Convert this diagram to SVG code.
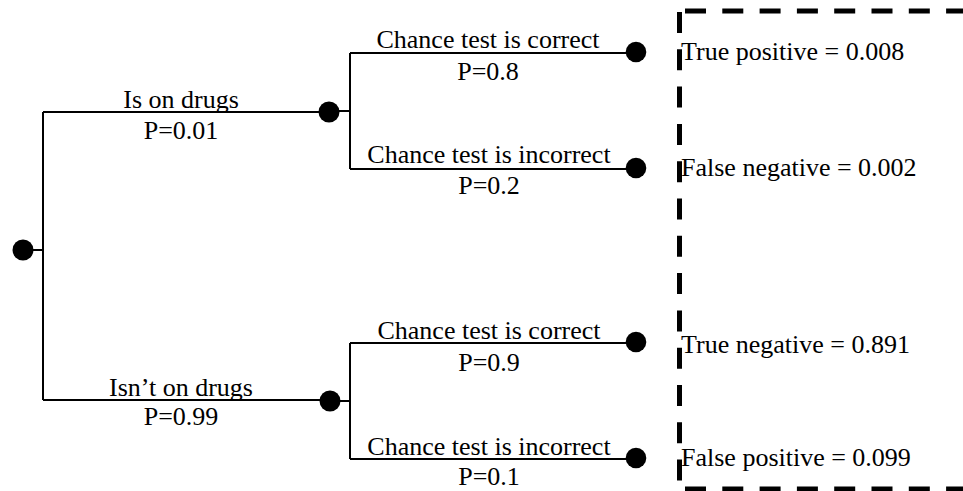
<svg xmlns="http://www.w3.org/2000/svg" width="963" height="491" viewBox="0 0 963 491">
<style>
.ln{stroke:#000;stroke-width:2;fill:none}
.dot{fill:#000}
.t{font-family:"Liberation Serif","Times New Roman",serif;font-size:26px;fill:#000}
.c{text-anchor:middle}
.box{stroke:#000;stroke-width:5;fill:none;stroke-dasharray:21 16.3}
</style>
<rect width="963" height="491" fill="#fff"/>
<g id="connectors">
<path class="ln" d="M23,250 H43 M43,112 V400 M43,112 H329 M43,400 H330"/>
<path class="ln" d="M329,111 H350 M350,53 V169 M350,53 H636 M350,169 H636"/>
<path class="ln" d="M330,401 H350 M350,343 V459 M350,343 H636 M350,459 H636"/>
<text class="t c" x="181" y="108">Is on drugs</text>
<text class="t c" x="181" y="139">P=0.01</text>
<text class="t c" x="181" y="396">Isn’t on drugs</text>
<text class="t c" x="181" y="425">P=0.99</text>
<text class="t c" x="488" y="48">Chance test is correct</text>
<text class="t c" x="488" y="80">P=0.8</text>
<text class="t c" x="489" y="163">Chance test is incorrect</text>
<text class="t c" x="489" y="194">P=0.2</text>
<text class="t c" x="489" y="339">Chance test is correct</text>
<text class="t c" x="489" y="371">P=0.9</text>
<text class="t c" x="489" y="455">Chance test is incorrect</text>
<text class="t c" x="489" y="485">P=0.1</text>
</g>
<g id="root"><circle class="dot" cx="23" cy="250" r="10.5"/></g>
<g id="on-drugs"><circle class="dot" cx="329" cy="112" r="10.5"/></g>
<g id="not-on-drugs"><circle class="dot" cx="330" cy="401" r="10.5"/></g>
<g id="leaf-tp"><circle class="dot" cx="636" cy="52" r="10.3"/></g>
<g id="leaf-fn"><circle class="dot" cx="636" cy="168" r="10.3"/></g>
<g id="leaf-tn"><circle class="dot" cx="636" cy="342" r="10.3"/></g>
<g id="leaf-fp"><circle class="dot" cx="636" cy="458" r="10.3"/></g>
<g id="results">
<line class="box" x1="679.5" y1="12" x2="679.5" y2="491"/>
<line class="box" x1="685" y1="11" x2="963" y2="11"/>
<line class="box" x1="685" y1="489" x2="963" y2="489"/>
<text class="t" x="681" y="60">True positive = 0.008</text>
<text class="t" x="681" y="176">False negative = 0.002</text>
<text class="t" x="681" y="353">True negative = 0.891</text>
<text class="t" x="681" y="466">False positive = 0.099</text>
</g>
</svg>
